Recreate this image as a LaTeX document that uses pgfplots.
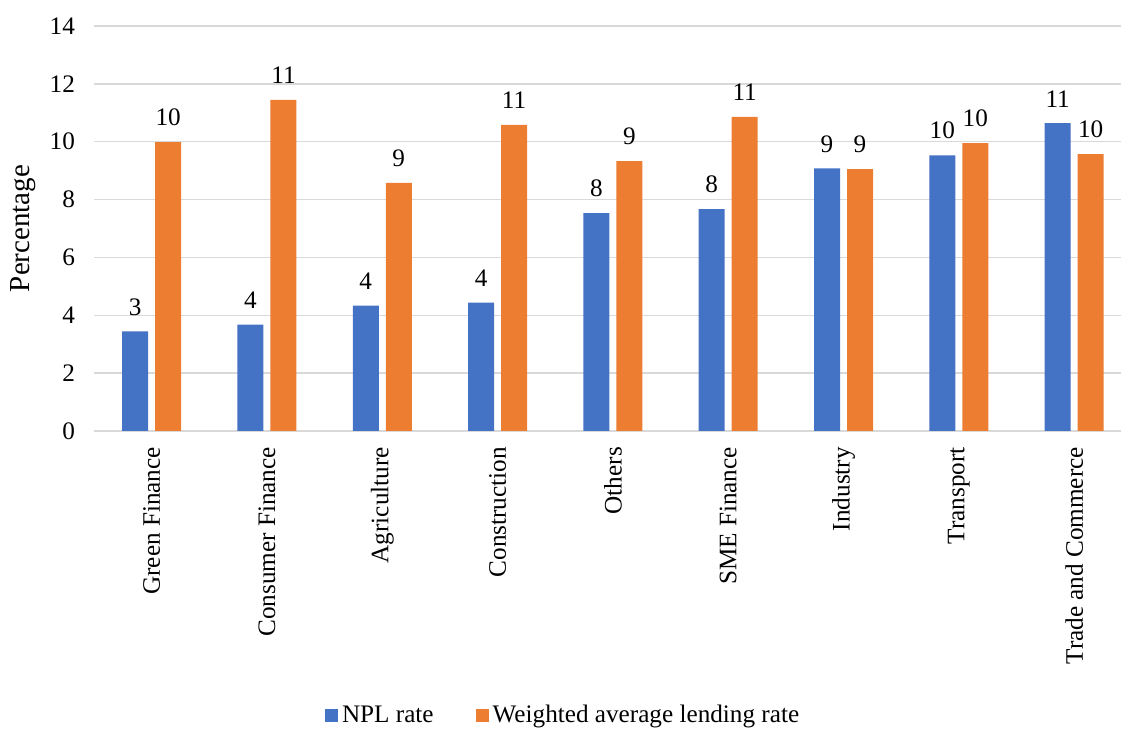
\documentclass[border=0pt]{standalone}
\usepackage{fontspec}
\setmainfont{Liberation Serif}
\usepackage{pgfplots}
\pgfplotsset{compat=1.18}
\definecolor{nplblue}{HTML}{4472C4}
\definecolor{walorange}{HTML}{ED7D31}
\definecolor{gridgray}{HTML}{D9D9D9}

\begin{document}
\begin{tikzpicture}
\begin{axis}[
  name=main,
  scale only axis,
  width=518.9pt, height=202.5pt,
  ybar=3.5pt, bar width=13pt,
  xmin=-0.5, xmax=8.5, ymin=0, ymax=14,
  ytick={0,2,...,14},
  xtick=data,
  xticklabels={Green Finance, Consumer Finance, Agriculture, Construction, Others, SME Finance, Industry, Transport, Trade and Commerce},
  /pgf/number format/assume math mode=true,
  font=\fontsize{12.6}{14}\selectfont,
  % rotated labels: local x points up, so a negative xshift moves them down
  x tick label style={rotate=90, anchor=east, xshift=-4.5pt},
  y tick label style={xshift=-6pt},
  axis line style={draw=none},
  major tick length=0pt,
  ymajorgrids,
  grid style={gridgray, line width=0.75pt},
  ylabel={Percentage},
  every axis y label/.style={at={(axis description cs:0,0.5)}, xshift=-35.5pt, rotate=90, anchor=center, font=\fontsize{14.5}{16}\selectfont},
  nodes near coords={\pgfmathprintnumber[fixed,precision=0]{\pgfplotspointmeta}},
  every node near coord/.append style={yshift=4.5pt, black},
  legend style={draw=none, legend columns=2, at={(0.453,-0.703)}, anchor=center,
    /tikz/every even column/.append style={column sep=19pt}},
  legend image code/.code={\fill[#1] (0pt,-3.25pt) rectangle (6.5pt,3.25pt);},
]
% NPL rate by sector
\addplot[fill=nplblue, draw=none] coordinates {
  (0,3.44) (1,3.68) (2,4.33) (3,4.44) (4,7.53) (5,7.67) (6,9.08) (7,9.53) (8,10.64)};
% Weighted average lending rate by sector
\addplot[fill=walorange, draw=none] coordinates {
  (0,9.99) (1,11.45) (2,8.58) (3,10.58) (4,9.33) (5,10.86) (6,9.05) (7,9.95) (8,9.57)};
\legend{NPL rate, Weighted average lending rate}
\end{axis}
\pgfresetboundingbox
\path[use as bounding box] ([shift={(-47pt,-151pt)}]main.south west) rectangle ([shift={(513.5pt,215.5pt)}]main.south west);
\end{tikzpicture}
\end{document}
